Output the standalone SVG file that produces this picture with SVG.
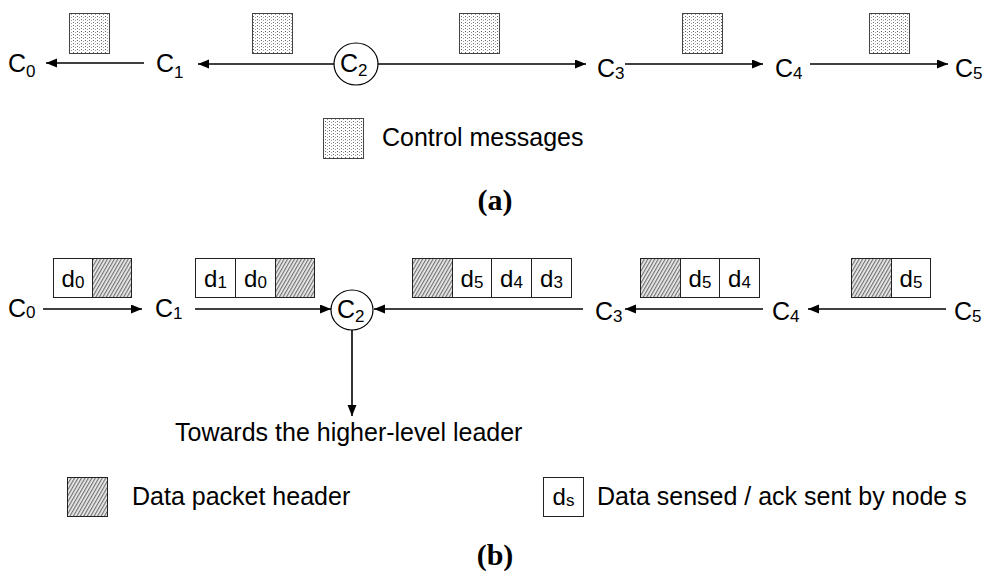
<svg xmlns="http://www.w3.org/2000/svg" width="983" height="574" viewBox="0 0 983 574">
<style>
  text { font-family: "Liberation Sans", Arial, sans-serif; fill: #000; }
  .lbl { font-size: 25px; }
  .sub { font-size: 17px; }
  .d { font-size: 24px; }
  .dsub { font-size: 17px; }
  .cap { font-family: "Liberation Serif", "Times New Roman", serif; font-weight: bold; font-size: 30px; }
  .ctrl { fill: url(#dots); stroke: #444; stroke-width: 1; }
  .hdr { fill: url(#hatch); stroke: #222; stroke-width: 1; }
  .cell { fill: #fff; stroke: #222; stroke-width: 1; }
  .conn { stroke: #000; stroke-width: 1.6; fill: none; marker-end: url(#arr); }
  .ring { fill: #fff; stroke: #000; stroke-width: 1.2; }
</style>
<defs>
  <pattern id="dots" width="4" height="3" patternUnits="userSpaceOnUse">
    <rect width="4" height="3" fill="#fff"/>
    <rect x="1" y="1" width="1" height="1" fill="#666"/>
    <rect x="3" y="2" width="1" height="1" fill="#999"/>
  </pattern>
  <pattern id="hatch" width="3" height="3" patternUnits="userSpaceOnUse" patternTransform="rotate(30)">
    <rect width="3" height="3" fill="#eee"/>
    <line x1="0.7" y1="0" x2="0.7" y2="3" stroke="#444" stroke-width="0.9"/>
  </pattern>
  <marker id="arr" markerWidth="12" markerHeight="10" refX="11" refY="4.5" orient="auto" markerUnits="userSpaceOnUse">
    <path d="M0,0 L11,4.5 L0,9 Z" fill="#000"/>
  </marker>
</defs>
<rect width="983" height="574" fill="#fff"/>

<!-- (a) connectors -->
<g id="connectors-a">
  <line class="conn" x1="144" y1="63" x2="46" y2="63"/>
  <line class="conn" x1="334" y1="64" x2="198" y2="64"/>
  <line class="conn" x1="378" y1="64" x2="586" y2="64"/>
  <line class="conn" x1="625" y1="64" x2="763" y2="64"/>
  <line class="conn" x1="810" y1="64" x2="948" y2="64"/>
</g>

<!-- (a) nodes -->
<g id="a-C0"><text class="lbl" x="8" y="72">C<tspan class="sub" dy="5">0</tspan></text></g>
<g id="a-C1"><text class="lbl" x="156" y="72">C<tspan class="sub" dy="6">1</tspan></text></g>
<g id="a-C2"><ellipse class="ring" cx="356" cy="64" rx="22" ry="21"/><text class="lbl" x="340" y="72">C<tspan class="sub" dy="4">2</tspan></text></g>
<g id="a-C3"><text class="lbl" x="597" y="77">C<tspan class="sub" dy="2">3</tspan></text></g>
<g id="a-C4"><text class="lbl" x="775" y="77">C<tspan class="sub" dy="2">4</tspan></text></g>
<g id="a-C5"><text class="lbl" x="955" y="77">C<tspan class="sub" dy="2">5</tspan></text></g>

<!-- (a) control messages -->
<g id="a-messages">
  <rect class="ctrl" x="69.5" y="13.5" width="40" height="40"/>
  <rect class="ctrl" x="252.5" y="13.5" width="40" height="40"/>
  <rect class="ctrl" x="459.5" y="13.5" width="40" height="40"/>
  <rect class="ctrl" x="682.5" y="13.5" width="40" height="40"/>
  <rect class="ctrl" x="869.5" y="13.5" width="40" height="40"/>
</g>

<g id="a-legend">
  <rect class="ctrl" x="323.5" y="118.5" width="40" height="40"/>
  <text class="lbl" x="382" y="146">Control messages</text>
</g>
<text class="cap" x="495" y="210" text-anchor="middle">(a)</text>

<!-- (b) connectors -->
<g id="connectors-b">
  <line class="conn" x1="43" y1="309" x2="142" y2="309"/>
  <line class="conn" x1="195" y1="309" x2="331" y2="309"/>
  <line class="conn" x1="583" y1="309" x2="374" y2="309"/>
  <line class="conn" x1="763" y1="309" x2="625" y2="309"/>
  <line class="conn" x1="946" y1="309" x2="808" y2="309"/>
  <line class="conn" x1="352" y1="330" x2="352" y2="416"/>
</g>

<!-- (b) nodes -->
<g id="b-C0"><text class="lbl" x="8" y="317">C<tspan class="sub" dy="1">0</tspan></text></g>
<g id="b-C1"><text class="lbl" x="155" y="317">C<tspan class="sub" dy="2">1</tspan></text></g>
<g id="b-C2"><ellipse class="ring" cx="352" cy="310" rx="21" ry="20"/><text class="lbl" x="337" y="318">C<tspan class="sub" dy="4">2</tspan></text></g>
<g id="b-C3"><text class="lbl" x="595" y="320">C<tspan class="sub" dy="2">3</tspan></text></g>
<g id="b-C4"><text class="lbl" x="772" y="320">C<tspan class="sub" dy="2">4</tspan></text></g>
<g id="b-C5"><text class="lbl" x="954" y="320">C<tspan class="sub" dy="2">5</tspan></text></g>
<g id="b-target"><text class="lbl" x="175" y="441">Towards the higher-level leader</text></g>

<!-- (b) packets -->
<g id="pkt-C0">
  <rect class="cell" x="53.5" y="258.5" width="39" height="39"/>
  <rect class="hdr" x="92.5" y="258.5" width="39" height="39"/>
  <text class="d" x="73" y="287" text-anchor="middle">d<tspan class="dsub" dy="1">0</tspan></text>
</g>
<g id="pkt-C1">
  <rect class="cell" x="195.5" y="258.5" width="40" height="39"/>
  <rect class="cell" x="235.5" y="258.5" width="40" height="39"/>
  <rect class="hdr" x="275.5" y="258.5" width="39" height="39"/>
  <text class="d" x="215.5" y="287" text-anchor="middle">d<tspan class="dsub" dy="1">1</tspan></text>
  <text class="d" x="255.5" y="287" text-anchor="middle">d<tspan class="dsub" dy="1">0</tspan></text>
</g>
<g id="pkt-C3">
  <rect class="hdr" x="412.5" y="258.5" width="40" height="39"/>
  <rect class="cell" x="452.5" y="258.5" width="39" height="39"/>
  <rect class="cell" x="491.5" y="258.5" width="40" height="39"/>
  <rect class="cell" x="531.5" y="258.5" width="40" height="39"/>
  <text class="d" x="472" y="287" text-anchor="middle">d<tspan class="dsub" dy="1">5</tspan></text>
  <text class="d" x="511.5" y="287" text-anchor="middle">d<tspan class="dsub" dy="1">4</tspan></text>
  <text class="d" x="551.5" y="287" text-anchor="middle">d<tspan class="dsub" dy="1">3</tspan></text>
</g>
<g id="pkt-C4">
  <rect class="hdr" x="640.5" y="258.5" width="40" height="39"/>
  <rect class="cell" x="680.5" y="258.5" width="39" height="39"/>
  <rect class="cell" x="719.5" y="258.5" width="40" height="39"/>
  <text class="d" x="700" y="287" text-anchor="middle">d<tspan class="dsub" dy="1">5</tspan></text>
  <text class="d" x="739.5" y="287" text-anchor="middle">d<tspan class="dsub" dy="1">4</tspan></text>
</g>
<g id="pkt-C5">
  <rect class="hdr" x="851.5" y="258.5" width="40" height="39"/>
  <rect class="cell" x="891.5" y="258.5" width="39" height="39"/>
  <text class="d" x="911" y="287" text-anchor="middle">d<tspan class="dsub" dy="1">5</tspan></text>
</g>

<!-- (b) legend -->
<g id="b-legend-header">
  <rect class="hdr" x="67.5" y="477.5" width="40" height="39"/>
  <text class="lbl" x="132" y="505">Data packet header</text>
</g>
<g id="b-legend-data">
  <rect class="cell" x="543.5" y="477.5" width="40" height="39"/>
  <text class="d" x="563.5" y="505" text-anchor="middle">d<tspan class="dsub" dy="1">s</tspan></text>
  <text class="lbl" x="597" y="505">Data sensed / ack sent by node s</text>
</g>
<text class="cap" x="495" y="565" text-anchor="middle">(b)</text>
</svg>
